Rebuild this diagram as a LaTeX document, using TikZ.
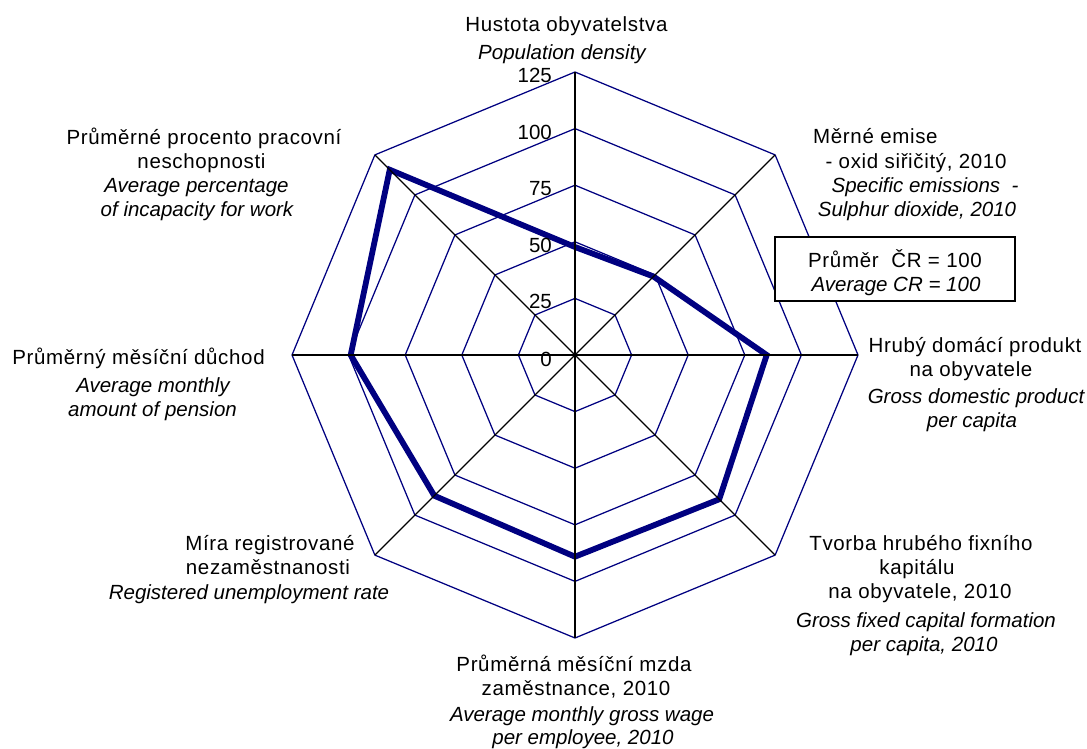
\documentclass[tikz,border=0pt]{standalone}
\usepackage{fontspec}
\setmainfont{Liberation Sans}
\newfontfamily\lsp[LetterSpace=3.2]{Liberation Sans}
\definecolor{navyc}{RGB}{0,0,128}
\begin{document}
\begin{tikzpicture}[x=1pt,y=-1pt,
  lab/.style={inner sep=0pt, font=\fontsize{20.5}{24}\selectfont\lsp, anchor=base},
  labi/.style={inner sep=0pt, font=\fontsize{20.5}{24}\selectfont\itshape, anchor=base},
  ticklab/.style={inner sep=0pt, font=\fontsize{20.5}{24}\selectfont, anchor=base east},
  gridline/.style={draw=navyc, line width=1.25pt},
  axisline/.style={draw=black, line width=1.3pt},
  dataline/.style={draw=navyc, line width=5.8pt, line join=miter},
  legbox/.style={draw=black, line width=1.6pt, fill=white}]
\useasboundingbox (0,0) rectangle (1087,749);
\coordinate (O) at (575,355);
\begin{scope}[shift={(O)}]
  % grid octagons
  \foreach \r in {56.6,113.2,169.8,226.4,283}{
    \draw[gridline] (-90:\r) -- (-45:\r) -- (0:\r) -- (45:\r) -- (90:\r) -- (135:\r) -- (180:\r) -- (225:\r) -- cycle;
  }
  % data polygon
  \coordinate (d0) at (-90:108);
  \coordinate (d1) at (-45:111);
  \coordinate (d2) at (0:191.7);
  \coordinate (d3) at (45:204);
  \coordinate (d4) at (90:201.7);
  \coordinate (d5) at (135:199);
  \coordinate (d6) at (180:224.3);
  \coordinate (d7) at (225:262);
  \draw[dataline] (d0) -- (d1) -- (d2) -- (d3) -- (d4) -- (d5) -- (d6) -- (d7) -- cycle;
  % axes
  \foreach \a in {-90,-45,0,45,90,135,180,225}{
    \coordinate (e\a) at (\a:283);
    \draw[axisline] (O) -- (e\a);
  }
\end{scope}
% tick labels
\node[ticklab] (k125) at (552,82.7) {125};
\node[ticklab] (k100) at (552,139.3) {100};
\node[ticklab] (k75) at (552,195) {75};
\node[ticklab] (k50) at (552,252.3) {50};
\node[ticklab] (k25) at (552,308.3) {25};
\node[ticklab] (k0) at (552,366) {0};
% top
\node[lab] (t1) at (566.5,32) {Hustota obyvatelstva};
\node[labi] (t2) at (562,60) {Population density};
% up-right
\node[lab, anchor=base west] (ur1) at (813,144) {Měrné emise};
\node[lab] (ur2) at (916,168) {- oxid siřičitý, 2010};
\node[labi] (ur3) at (925,192) {Specific emissions\ \ -};
\node[labi] (ur4) at (917,216) {Sulphur dioxide, 2010};
% legend
\node[legbox, minimum width=240pt, minimum height=64pt] (legend) at (895,269) {};
\node[lab] (lg1) at (895,267) {Průměr\ \ ČR = 100};
\node[labi] (lg2) at (896,291) {Average CR = 100};
% right
\node[lab] (r1) at (975,352) {Hrubý domácí produkt};
\node[lab] (r2) at (971,376) {na obyvatele};
\node[labi] (r3) at (976,403) {Gross domestic product};
\node[labi] (r4) at (972,427) {per capita};
% down-right
\node[lab] (dr1) at (921,550) {Tvorba hrubého fixního};
\node[lab] (dr2) at (917,574) {kapitálu};
\node[lab] (dr3) at (920,598) {na obyvatele, 2010};
\node[labi] (dr4) at (926,627) {Gross fixed capital formation};
\node[labi] (dr5) at (924,651) {per capita, 2010};
% bottom
\node[lab] (b1) at (574,671) {Průměrná měsíční mzda};
\node[lab] (b2) at (576,695) {zaměstnance, 2010};
\node[labi] (b3) at (582,721) {Average monthly gross wage};
\node[labi] (b4) at (583,744) {per employee, 2010};
% down-left
\node[lab] (dl1) at (270,550) {Míra registrované};
\node[lab] (dl2) at (268,574) {nezaměstnanosti};
\node[labi] (dl3) at (249,599) {Registered unemployment rate};
% left
\node[lab] (l1) at (138.5,364) {Průměrný měsíční důchod};
\node[labi] (l2) at (153,392) {Average monthly};
\node[labi] (l3) at (152.5,416) {amount of pension};
% up-left
\node[lab] (ul1) at (204,145) {Průměrné procento pracovní};
\node[lab] (ul2) at (201.5,168) {neschopnosti};
\node[labi] (ul3) at (196.5,192) {Average percentage};
\node[labi] (ul4) at (197,216) {of incapacity for work};
\end{tikzpicture}
\end{document}
